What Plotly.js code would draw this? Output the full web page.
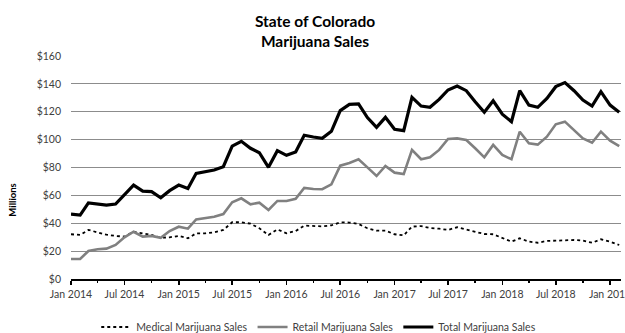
<!DOCTYPE html>
<html>
<head>
<meta charset="utf-8">
<script src="https://cdn.plot.ly/plotly-3.0.1.min.js"></script>
<style>html,body{margin:0;padding:0;background:#fff}#chart{width:625px;height:333px}</style>
</head>
<body>
<div id="chart"></div>
<script>
// Months Jan 2014 .. Feb 2019
var startYear = 2014, nMonths = 62;
var months = [];
for (var k = 0; k < nMonths; k++) {
  var y = startYear + Math.floor(k / 12), m = (k % 12) + 1;
  months.push(y + '-' + (m < 10 ? '0' + m : m) + '-01');
}
var medicalSales = [32.1,31.6,35.2,33.2,31.8,30.9,30.4,33.9,32.8,31.6,29.6,29.9,
  30.9,29.2,32.8,32.8,33.5,35.2,40.7,40.7,39.7,36.4,31.6,35.6,
  32.8,34.4,38.3,38.3,37.8,38.5,40.7,40.5,39.5,36.4,34.7,34.7,
  32.1,31.3,37.6,38.0,36.6,36.1,35.2,37.1,35.6,34.2,32.3,32.1,
  29.2,26.8,29.2,26.8,26.0,27.3,27.5,28.0,28.0,27.5,26.0,28.5,
  26.8,24.4];
var retailSales = [14.3,14.4,20.1,21.3,21.8,24.4,29.9,33.9,30.4,30.9,29.6,34.4,
  37.5,36.1,42.8,44.0,44.7,46.6,55.0,57.9,53.6,54.8,49.5,56.0,
  56.0,57.6,65.3,64.6,64.4,67.9,81.3,83.3,85.9,80.1,73.9,81.1,
  76.3,75.3,92.6,85.9,87.3,92.6,100.5,100.9,99.7,93.8,87.3,96.2,
  89.0,85.9,105.7,97.3,96.4,102.1,111.0,112.9,106.9,100.9,97.8,105.7,
  99.3,95.4];
var totalSales = [46.5,45.8,54.6,53.5,53.0,53.8,60.8,67.4,63.0,62.7,58.3,63.4,
  67.4,64.9,75.8,77.0,78.2,80.6,95.4,98.8,93.8,90.6,80.1,92.1,
  88.7,91.1,103.1,101.9,100.9,106.0,120.8,125.3,125.6,115.8,108.8,116.0,
  107.4,106.4,130.3,124.1,123.2,128.9,135.6,138.5,135.1,127.2,119.6,127.9,
  118.2,112.9,135.1,124.8,123.2,129.6,138.0,140.9,135.1,128.4,124.1,134.4,
  124.8,119.6];
var seriesNames = ['Medical Marijuana Sales','Retail Marijuana Sales','Total Marijuana Sales'];

var FONT = 'Lato, "Open Sans", sans-serif';
var traces = [
  {x: months, y: medicalSales, name: seriesNames[0], type: 'scatter', mode: 'lines',
   line: {color: '#000000', width: 1.8, dash: 'dot'}},
  {x: months, y: retailSales, name: seriesNames[1], type: 'scatter', mode: 'lines',
   line: {color: '#808080', width: 2.6}},
  {x: months, y: totalSales, name: seriesNames[2], type: 'scatter', mode: 'lines',
   line: {color: '#000000', width: 3.2}}
];
var layout = {
  width: 625, height: 333,
  margin: {l: 71, r: 4, t: 56, b: 54},
  paper_bgcolor: '#ffffff', plot_bgcolor: '#ffffff',
  font: {family: FONT, size: 10.5, color: '#404040'},
  title: {text: '<b>State of Colorado<br>Marijuana Sales</b>', x: 0.504, xanchor: 'center',
          y: 0.918, yanchor: 'top', font: {family: FONT, size: 15.5, color: '#000000'}},
  xaxis: {type: 'date', range: ['2014-01-01', '2019-02-07'], tick0: '2014-01-01', dtick: 'M6',
          tickformat: '%b %Y', showgrid: false, zeroline: false,
          showline: true, linecolor: '#000000', linewidth: 2,
          ticks: 'outside', ticklen: 4, tickwidth: 1.5, tickcolor: '#000000',
          ticklabeloverflow: 'allow',
          minor: {dtick: 'M3', ticks: 'outside', ticklen: 2, tickwidth: 1.5, tickcolor: '#000000', showgrid: false},
          tickfont: {family: FONT, size: 10.5, color: '#404040'}, automargin: false, fixedrange: true},
  yaxis: {range: [0, 160], dtick: 20, tickprefix: '$', showgrid: true, gridcolor: '#8c8c8c', gridwidth: 1,
          zeroline: false, showline: false, ticks: '', ticklabelstandoff: 9,
          tickfont: {family: FONT, size: 10.5, color: '#404040'}, automargin: false, fixedrange: true},
  showlegend: true,
  legend: {orientation: 'h', xref: 'container', x: 0.51, xanchor: 'center',
           yref: 'container', y: 0.018, yanchor: 'middle',
           font: {family: FONT, size: 10.5, color: '#404040'}, itemwidth: 30, traceorder: 'normal'},
  annotations: [{text: '<b>Millions</b>', textangle: -90, xref: 'paper', yref: 'paper',
                 x: -0.108, y: 0.354, xanchor: 'center', yanchor: 'middle', showarrow: false,
                 font: {family: FONT, size: 9.5, color: '#000000'}}]
};
Plotly.newPlot('chart', traces, layout, {staticPlot: true, displayModeBar: false});
</script>
</body>
</html>
